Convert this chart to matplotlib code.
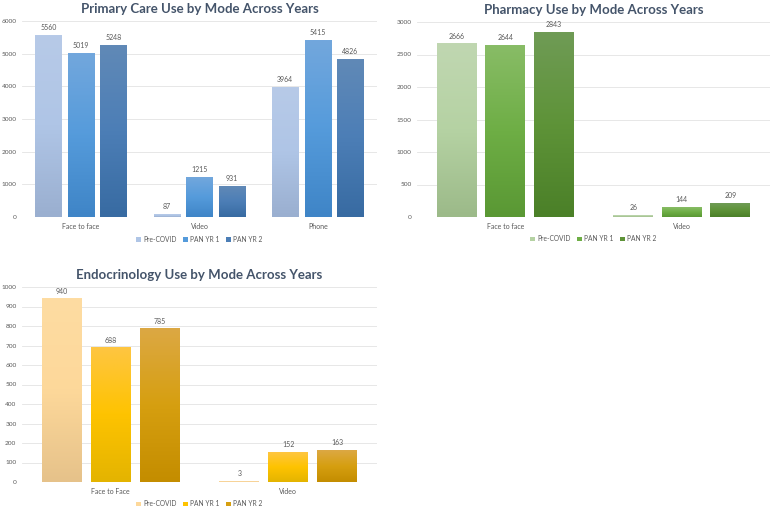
import matplotlib
matplotlib.use('Agg')
import matplotlib.pyplot as plt
import numpy as np
from matplotlib.colors import LinearSegmentedColormap
from matplotlib.patches import Patch

plt.rcParams['font.family'] = ['Lato', 'DejaVu Sans']

years = ['Pre-COVID', 'PAN YR 1', 'PAN YR 2']

pc_modes = ['Face to face', 'Video', 'Phone']
pc_pre = [5560, 87, 3964]
pc_yr1 = [5019, 1215, 5415]
pc_yr2 = [5248, 931, 4826]

ph_modes = ['Face to face', 'Video']
ph_pre = [2666, 26]
ph_yr1 = [2644, 144]
ph_yr2 = [2843, 209]

en_modes = ['Face to Face', 'Video']
en_pre = [940, 3]
en_yr1 = [688, 152]
en_yr2 = [785, 163]

# gradient stops per series: top, middle, bottom
blue = [('#b7cae8', '#afc5e6', '#9aafd0'),
        ('#72a7dd', '#559bdb', '#3f85c7'),
        ('#6089b7', '#4c7eb6', '#386ba2')]
green = [('#c0d7b1', '#b5d2a3', '#9cba89'),
         ('#88bc66', '#6eae45', '#5a9834'),
         ('#6f9b55', '#5e9338', '#4b8028')]
gold = [('#fedca2', '#fdd89a', '#e6c28a'),
        ('#fec641', '#fec300', '#e4b400'),
        ('#dca843', '#d69f10', '#c48d00')]

TITLE_C = '#44546a'
TEXT_C = '#595959'
GRID_C = '#e3e3e3'


def draw_panel(ax, title, modes, series, colors, ymax, ystep):
    x = np.arange(len(modes))
    step = 0.275
    width = 0.225
    for i, (vals, stops) in enumerate(zip(series, colors)):
        bars = ax.bar(x + (i - 1) * step, vals, width, facecolor='none',
                      edgecolor='none', zorder=3)
        cmap = LinearSegmentedColormap.from_list(f'g{i}', stops[::-1])
        grad = np.linspace(0, 1, 64).reshape(-1, 1)
        for r in bars:
            ax.imshow(grad, cmap=cmap, origin='lower', aspect='auto',
                      extent=(r.get_x(), r.get_x() + r.get_width(), 0, r.get_height()),
                      interpolation='bilinear', zorder=2)
        ax.bar_label(bars, padding=3, fontsize=5, color=TEXT_C)
    ax.set_xlim(-0.5, len(modes) - 0.5)
    ax.set_ylim(0, ymax)
    ax.set_yticks(np.arange(0, ymax + 1, ystep))
    ax.set_xticks(x, modes)
    ax.tick_params(length=0, labelsize=5, colors=TEXT_C)
    ax.tick_params(axis='y', labelsize=4.6, pad=4)
    ax.tick_params(axis='x', pad=4)
    ax.grid(axis='y', color=GRID_C, lw=0.6)
    ax.set_axisbelow(True)
    for s in ax.spines.values():
        s.set_visible(False)
    ax.set_title(title, fontsize=9.5, fontweight='bold', color=TITLE_C, pad=6)
    handles = [Patch(facecolor=c[1]) for c in colors]
    ax.legend(handles, years, loc='center', ncol=3, frameon=False,
              bbox_to_anchor=(0.5, -22 / 196), fontsize=4.8, labelcolor=TEXT_C,
              handlelength=0.7, handleheight=0.7, handletextpad=0.4,
              columnspacing=0.9)


W, H = 772, 509
fig = plt.figure(figsize=(W / 100, H / 100), dpi=100)


def px_axes(x0, x1, y0, y1):
    return fig.add_axes([x0 / W, 1 - y1 / H, (x1 - x0) / W, (y1 - y0) / H])


ax1 = px_axes(22, 377, 21, 217)
draw_panel(ax1, 'Primary Care Use by Mode Across Years', pc_modes,
           [pc_pre, pc_yr1, pc_yr2], blue, 6000, 1000)

ax2 = px_axes(417, 770, 22, 217)
draw_panel(ax2, 'Pharmacy Use by Mode Across Years', ph_modes,
           [ph_pre, ph_yr1, ph_yr2], green, 3000, 500)

ax3 = px_axes(22, 377, 287, 482)
draw_panel(ax3, 'Endocrinology Use by Mode Across Years', en_modes,
           [en_pre, en_yr1, en_yr2], gold, 1000, 100)

fig.savefig('out.png', dpi=100, facecolor='white')
